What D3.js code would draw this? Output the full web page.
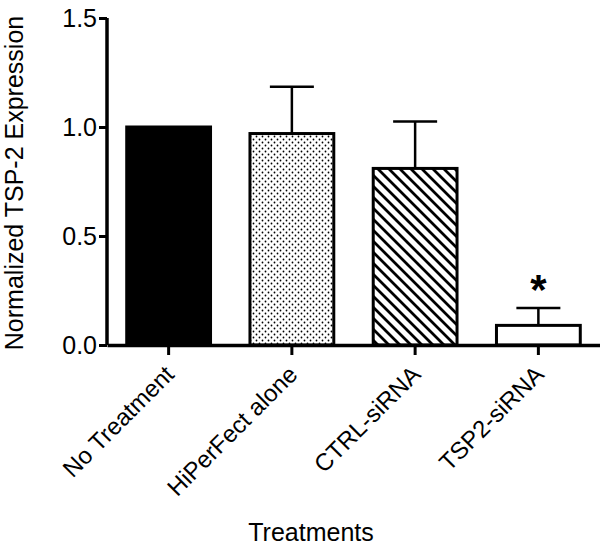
<!DOCTYPE html>
<html>
<head>
<meta charset="utf-8">
<script src="https://cdn.jsdelivr.net/npm/d3@7"></script>
<style>
  body { margin: 0; background: #fff; }
  text { font-family: "Liberation Sans", Arial, sans-serif; fill: #000; }
</style>
</head>
<body>
<svg id="canvas" width="600" height="545"></svg>
<script>
// data
let treatments = ['No Treatment', 'HiPerFect alone', 'CTRL-siRNA', 'TSP2-siRNA']
let means = [1.0, 0.97, 0.81, 0.09]
let sems = [0, 0.215, 0.215, 0.08]
let fills = ['solid', 'dots', 'hatch', 'white']
let yTicks = [0, 0.5, 1.0, 1.5]

let svg = d3.select('#canvas')

let x = d3.scaleBand()
    .domain(treatments)
    .range([107, 600])
    .paddingInner(0.32)
    .paddingOuter(0.16)

let y = d3.scaleLinear()
    .domain([0, 1.5])
    .range([345, 18])

// patterns
let defs = svg.append('defs')
let dots = defs.append('pattern')
    .attr('id', 'dots')
    .attr('patternUnits', 'userSpaceOnUse')
    .attr('width', 6).attr('height', 6)
dots.append('rect').attr('width', 6).attr('height', 6).attr('fill', '#fff')
dots.append('circle').attr('cx', 1.5).attr('cy', 1.5).attr('r', 0.9).attr('fill', '#000')
dots.append('circle').attr('cx', 4.5).attr('cy', 4.5).attr('r', 0.9).attr('fill', '#000')

// back-slash hatching, top-left to bottom-right
let hs = 11
let hatch = defs.append('pattern')
    .attr('id', 'hatch')
    .attr('patternUnits', 'userSpaceOnUse')
    .attr('width', hs).attr('height', hs)
hatch.append('rect').attr('width', hs).attr('height', hs).attr('fill', '#fff')
hatch.append('path')
    .attr('d', 'M-2,-2L' + (hs + 2) + ',' + (hs + 2) + 'M-2,' + (hs - 2) + 'L2,' + (hs + 2) + 'M' + (hs - 2) + ',-2L' + (hs + 2) + ',2')
    .attr('stroke', '#000').attr('stroke-width', 2.8)

let fillFor = (f) => {
    if (f === 'solid') return '#000'
    if (f === 'dots') return 'url(#dots)'
    if (f === 'hatch') return 'url(#hatch)'
    return '#fff'
}

let rows = treatments.map((t, i) => ({name: t, mean: means[i], sem: sems[i], fill: fills[i]}))

// error bars (upper only)
let err = svg.selectAll('.err')
    .data(rows.filter(d => d.sem > 0))
    .enter()
    .append('g')
    .attr('class', 'err')
err.append('line')
    .attr('x1', d => x(d.name) + x.bandwidth() / 2)
    .attr('x2', d => x(d.name) + x.bandwidth() / 2)
    .attr('y1', d => y(d.mean))
    .attr('y2', d => y(d.mean + d.sem))
    .attr('stroke', '#000').attr('stroke-width', 2.5)
err.append('line')
    .attr('x1', d => x(d.name) + x.bandwidth() / 2 - 22)
    .attr('x2', d => x(d.name) + x.bandwidth() / 2 + 22)
    .attr('y1', d => y(d.mean + d.sem))
    .attr('y2', d => y(d.mean + d.sem))
    .attr('stroke', '#000').attr('stroke-width', 2.5)

// bars
svg.selectAll('.bar')
    .data(rows)
    .enter()
    .append('rect')
    .attr('class', 'bar')
    .attr('x', d => x(d.name))
    .attr('y', d => y(d.mean))
    .attr('width', x.bandwidth())
    .attr('height', d => y(0) - y(d.mean))
    .attr('fill', d => fillFor(d.fill))
    .attr('stroke', '#000')
    .attr('stroke-width', 3)

// asterisk over TSP2
let last = rows[3]
svg.append('text')
    .attr('x', x(last.name) + x.bandwidth() / 2)
    .attr('y', y(last.mean + last.sem) - 4)
    .attr('text-anchor', 'middle')
    .style('font-size', '42px')
    .style('font-weight', 'bold')
    .text('*')

// y axis
let yAxis = svg.append('g')
    .attr('transform', 'translate(107,0)')
    .call(d3.axisLeft(y).tickValues(yTicks).tickFormat(d3.format('.1f')).tickSize(8).tickPadding(2))
yAxis.select('.domain').attr('stroke-width', 3.5).attr('d', 'M0,' + y(1.5) + 'V' + y(0))
yAxis.selectAll('.tick line').attr('stroke-width', 3)
yAxis.selectAll('text').style('font-size', '25px')

// x axis
let xAxis = svg.append('g')
    .attr('transform', 'translate(0,345)')
    .call(d3.axisBottom(x).tickSize(10).tickSizeOuter(0))
xAxis.select('.domain').attr('stroke-width', 3.5)
xAxis.selectAll('.tick line').attr('stroke-width', 3)
xAxis.selectAll('text')
    .style('font-size', '24px')
    .attr('text-anchor', 'end')
    .attr('dy', '0.35em')
    .attr('transform', 'translate(1,25) rotate(-45)')
    .attr('x', 0).attr('y', 0)

// titles
svg.append('text')
    .attr('transform', 'translate(23,183) rotate(-90)')
    .attr('text-anchor', 'middle')
    .style('font-size', '25px')
    .text('Normalized TSP-2 Expression')

svg.append('text')
    .attr('x', 311)
    .attr('y', 541)
    .attr('text-anchor', 'middle')
    .style('font-size', '25px')
    .text('Treatments')
</script>
</body>
</html>
